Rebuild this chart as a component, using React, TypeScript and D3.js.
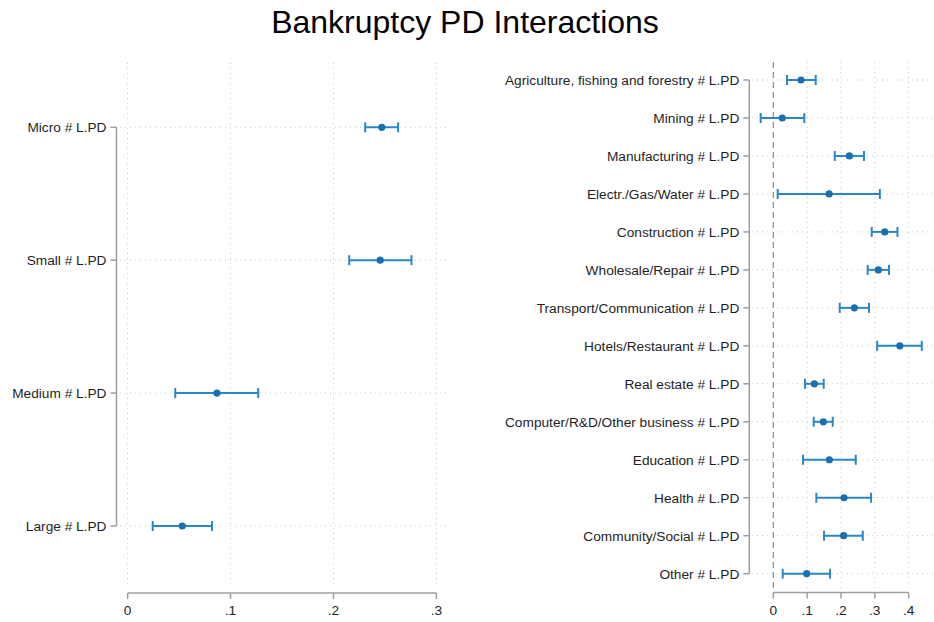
import React from "react";
import * as d3 from "d3";

const sizeCats = ["Micro # L.PD", "Small # L.PD", "Medium # L.PD", "Large # L.PD"];
const sizeEst = [0.247, 0.2454, 0.0868, 0.0531];
const sizeLo = [0.2308, 0.2153, 0.0463, 0.0244];
const sizeHi = [0.2628, 0.2758, 0.1269, 0.082];
const sizeTicks = [0, 0.1, 0.2, 0.3];
const sizeTickLabels = ["0", ".1", ".2", ".3"];

const indCats = [
  "Agriculture, fishing and forestry # L.PD",
  "Mining # L.PD",
  "Manufacturing # L.PD",
  "Electr./Gas/Water # L.PD",
  "Construction # L.PD",
  "Wholesale/Repair # L.PD",
  "Transport/Communication # L.PD",
  "Hotels/Restaurant # L.PD",
  "Real estate # L.PD",
  "Computer/R&D/Other business # L.PD",
  "Education # L.PD",
  "Health # L.PD",
  "Community/Social # L.PD",
  "Other # L.PD",
];
const indEst = [0.082, 0.0266, 0.2249, 0.165, 0.3295, 0.3107, 0.2397, 0.374, 0.1214, 0.148, 0.1657, 0.209, 0.208, 0.0988];
const indLo = [0.0405, -0.0373, 0.1817, 0.013, 0.291, 0.279, 0.1964, 0.307, 0.0938, 0.1195, 0.0879, 0.1272, 0.15, 0.0278];
const indHi = [0.1254, 0.0917, 0.268, 0.315, 0.367, 0.342, 0.283, 0.439, 0.149, 0.1757, 0.2438, 0.289, 0.2645, 0.1678];
const indTicks = [0, 0.1, 0.2, 0.3, 0.4];
const indTickLabels = ["0", ".1", ".2", ".3", ".4"];

const TITLE = "Bankruptcy PD Interactions";

const FONT = "'Liberation Sans', Arial, sans-serif";
const CI_COLOR = "#2a86c8";
const PT_COLOR = "#1a6fb0";
const AXIS_COLOR = "#9e9e9e";
const GRID_COLOR = "#c8c8c8";
const TEXT_COLOR = "#1e1e1e";
const LABEL_SIZE = 13.7;

type PanelProps = {
  cats: string[];
  est: number[];
  lo: number[];
  hi: number[];
  ticks: number[];
  tickLabels: string[];
  xDomain: [number, number];
  xRange: [number, number];
  yRange: [number, number];
  yAxisX: number;
  plotLeft: number;
  plotRight: number;
  plotTop: number;
  plotBottom: number;
  xAxisY: number;
  zeroDashed: boolean;
};

function Panel(p: PanelProps) {
  const x = d3.scaleLinear().domain(p.xDomain).range(p.xRange);
  const y = d3.scalePoint<string>().domain(p.cats).range(p.yRange);
  const yFirst = y(p.cats[0]) as number;
  const yLast = y(p.cats[p.cats.length - 1]) as number;
  return (
    <g>
      {p.ticks.map((t, i) =>
        p.zeroDashed && t === 0 ? (
          <line key={"vg" + i} x1={x(t)} x2={x(t)} y1={p.plotTop} y2={p.plotBottom}
            stroke="#8a8a8a" strokeWidth={1.2} strokeDasharray="6,4" />
        ) : (
          <line key={"vg" + i} x1={x(t)} x2={x(t)} y1={p.plotTop} y2={p.plotBottom}
            stroke={GRID_COLOR} strokeWidth={1} strokeDasharray="1,4" />
        )
      )}
      {p.cats.map((c) => (
        <line key={"hg" + c} x1={p.plotLeft} x2={p.plotRight} y1={y(c)} y2={y(c)}
          stroke={GRID_COLOR} strokeWidth={1} strokeDasharray="1,4" />
      ))}
      <line x1={p.yAxisX} x2={p.yAxisX} y1={yFirst} y2={yLast} stroke={AXIS_COLOR} strokeWidth={1.5} />
      {p.cats.map((c) => (
        <g key={"yt" + c}>
          <line x1={p.yAxisX - 6} x2={p.yAxisX} y1={y(c)} y2={y(c)} stroke={AXIS_COLOR} strokeWidth={1.5} />
          <text x={p.yAxisX - 10} y={(y(c) as number) + 5} textAnchor="end" fontSize={LABEL_SIZE}
            fontFamily={FONT} fill={TEXT_COLOR}>{c}</text>
        </g>
      ))}
      <line x1={x(p.ticks[0])} x2={x(p.ticks[p.ticks.length - 1])} y1={p.xAxisY} y2={p.xAxisY}
        stroke={AXIS_COLOR} strokeWidth={1.5} />
      {p.ticks.map((t, i) => (
        <g key={"xt" + i}>
          <line x1={x(t)} x2={x(t)} y1={p.xAxisY} y2={p.xAxisY + 6} stroke={AXIS_COLOR} strokeWidth={1.5} />
          <text x={x(t)} y={p.xAxisY + 22} textAnchor="middle" fontSize={LABEL_SIZE} fontFamily={FONT}
            fill={TEXT_COLOR}>{p.tickLabels[i]}</text>
        </g>
      ))}
      {p.cats.map((c, i) => {
        const yy = y(c) as number;
        return (
          <g key={"pt" + c}>
            <line x1={x(p.lo[i])} x2={x(p.hi[i])} y1={yy} y2={yy} stroke={CI_COLOR} strokeWidth={2} />
            <line x1={x(p.lo[i])} x2={x(p.lo[i])} y1={yy - 5} y2={yy + 5} stroke={CI_COLOR} strokeWidth={2} />
            <line x1={x(p.hi[i])} x2={x(p.hi[i])} y1={yy - 5} y2={yy + 5} stroke={CI_COLOR} strokeWidth={2} />
            <circle cx={x(p.est[i])} cy={yy} r={3.6} fill={PT_COLOR} />
          </g>
        );
      })}
    </g>
  );
}

export default function App() {
  return (
    <div style={{ position: "absolute", left: 0, top: 0 }}>
      <svg width={934} height={622} style={{ display: "block", background: "#fff" }}>
        <rect x={0} y={0} width={934} height={622} fill="#fff" />
        <text x={465} y={33} textAnchor="middle" fontSize={32} fontFamily={FONT} fill="#000">{TITLE}</text>
        <Panel
          cats={sizeCats} est={sizeEst} lo={sizeLo} hi={sizeHi}
          ticks={sizeTicks} tickLabels={sizeTickLabels}
          xDomain={[0, 0.3]} xRange={[127.6, 436.4]} yRange={[127.3, 526]}
          yAxisX={116.5} plotLeft={120} plotRight={447} plotTop={63} plotBottom={588}
          xAxisY={593} zeroDashed={false}
        />
        <Panel
          cats={indCats} est={indEst} lo={indLo} hi={indHi}
          ticks={indTicks} tickLabels={indTickLabels}
          xDomain={[0, 0.4]} xRange={[773.3, 908.6]} yRange={[80, 573.7]}
          yAxisX={749.3} plotLeft={752} plotRight={934} plotTop={62} plotBottom={588}
          xAxisY={592.5} zeroDashed={true}
        />
      </svg>
    </div>
  );
}
